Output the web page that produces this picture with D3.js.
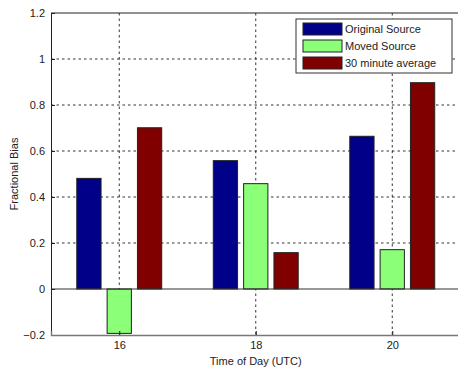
<!DOCTYPE html>
<html>
<head>
<meta charset="utf-8">
<script src="https://cdn.jsdelivr.net/npm/d3@7"></script>
<style>
body { margin: 0; background: #fff; }
text { font-family: "Liberation Sans", Arial, sans-serif; }
</style>
</head>
<body>
<div id="chart"></div>
<script>
'use strict';

// data
var hours = [16, 18, 20];
var seriesNames = ['Original Source', 'Moved Source', '30 minute average'];
var originalSource = [0.481, 0.558, 0.664];
var movedSource = [-0.193, 0.458, 0.171];
var avg30 = [0.701, 0.158, 0.897];
var yTicks = [-0.2, 0, 0.2, 0.4, 0.6, 0.8, 1, 1.2];
var seriesColors = ['#000088', '#8cff78', '#800000'];

var W = 458, H = 370;
var margin = { top: 13, left: 51 };
var plotRight = 460.5, plotBottom = 335;

var svg = d3.select('#chart').append('svg')
    .attr('width', W)
    .attr('height', H);

var x = d3.scaleLinear().domain([15, 21]).range([margin.left, plotRight]);
var y = d3.scaleLinear().domain([-0.2, 1.2]).range([plotBottom, margin.top]);

// grid
var grid = svg.append('g').attr('class', 'grid');
grid.selectAll('.ygrid')
    .data(yTicks.filter(function (d) { return d > 0 && d < 1.2; }))
    .enter().append('line')
    .attr('x1', margin.left).attr('x2', plotRight)
    .attr('y1', function (d) { return y(d); })
    .attr('y2', function (d) { return y(d); })
    .attr('stroke', '#000').attr('stroke-width', 0.8)
    .attr('stroke-dasharray', '2.5,3');
grid.selectAll('.xgrid')
    .data(hours)
    .enter().append('line')
    .attr('x1', function (d) { return x(d); })
    .attr('x2', function (d) { return x(d); })
    .attr('y1', margin.top).attr('y2', plotBottom)
    .attr('stroke', '#000').attr('stroke-width', 0.8)
    .attr('stroke-dasharray', '2.5,3');

// bars
var series = [originalSource, movedSource, avg30];
var slot = 2 * (3 / 4.5) / 3;   // group width / number of bars
var barW = x(15 + slot * 0.8) - x(15);
series.forEach(function (vals, s) {
    var off = (s - 1) * slot;
    svg.append('g').selectAll('rect')
        .data(vals)
        .enter().append('rect')
        .attr('x', function (d, i) { return x(hours[i] + off) - barW / 2; })
        .attr('y', function (d) { return y(Math.max(d, 0)); })
        .attr('width', barW)
        .attr('height', function (d) { return Math.abs(y(d) - y(0)); })
        .attr('fill', seriesColors[s])
        .attr('stroke', '#222')
        .attr('stroke-width', 1);
});

// baseline at zero
svg.append('line')
    .attr('x1', margin.left).attr('x2', plotRight)
    .attr('y1', y(0)).attr('y2', y(0))
    .attr('stroke', '#333').attr('stroke-width', 1.2);

// axes
var yAxis = d3.axisLeft(y).tickValues(yTicks).tickSize(-4).tickPadding(6)
    .tickFormat(function (d) { return d3.format('')(+d.toFixed(1)); });
var yg = svg.append('g')
    .attr('transform', 'translate(' + margin.left + ',0)')
    .call(yAxis);
yg.select('.domain').attr('stroke', '#222');
yg.selectAll('text').attr('font-size', 11).attr('fill', '#222');
yg.selectAll('.tick line').attr('stroke', '#222');

var xAxis = d3.axisBottom(x).tickValues(hours).tickSize(-4).tickPadding(6)
    .tickFormat(d3.format('d'));
var xg = svg.append('g')
    .attr('transform', 'translate(0,' + plotBottom + ')')
    .call(xAxis);
xg.select('.domain').attr('stroke', '#777').attr('stroke-width', 1.4);
xg.selectAll('text').attr('font-size', 11).attr('fill', '#222');
xg.selectAll('.tick line').attr('stroke', '#222');

// top frame
svg.append('line')
    .attr('x1', margin.left).attr('x2', plotRight)
    .attr('y1', margin.top).attr('y2', margin.top)
    .attr('stroke', '#222');

// labels
svg.append('text')
    .attr('x', x(18)).attr('y', 365)
    .attr('text-anchor', 'middle')
    .attr('font-size', 11).attr('fill', '#222')
    .text('Time of Day (UTC)');
svg.append('text')
    .attr('transform', 'translate(18,' + y(0.5) + ') rotate(-90)')
    .attr('text-anchor', 'middle')
    .attr('font-size', 11).attr('fill', '#222')
    .text('Fractional Bias');

// legend
var lg = svg.append('g').attr('transform', 'translate(296,19)');
lg.append('rect')
    .attr('width', 156).attr('height', 54)
    .attr('fill', '#fff').attr('stroke', '#333').attr('stroke-width', 1);
seriesNames.forEach(function (name, i) {
    lg.append('rect')
        .attr('x', 7).attr('y', 4 + i * 17)
        .attr('width', 39).attr('height', 12)
        .attr('fill', seriesColors[i])
        .attr('stroke', '#222');
    lg.append('text')
        .attr('x', 49).attr('y', 14 + i * 17)
        .attr('font-size', 11).attr('fill', '#222')
        .text(name);
});
</script>
</body>
</html>
